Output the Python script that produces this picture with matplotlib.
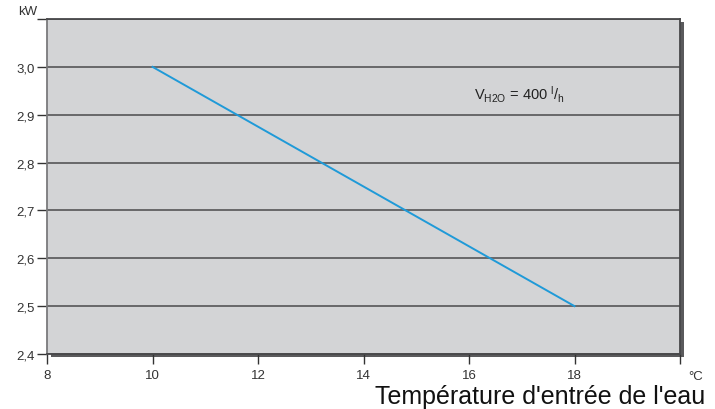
import matplotlib.pyplot as plt
from matplotlib.patches import Rectangle
import matplotlib.transforms as mtransforms

plt.rcParams['font.family'] = ['Liberation Sans', 'DejaVu Sans']
plt.rcParams['mathtext.fontset'] = 'custom'
plt.rcParams['mathtext.rm'] = 'Liberation Sans'
plt.rcParams['mathtext.it'] = 'Liberation Sans'

# data
temp = [10, 18]
power = [3.0, 2.5]
x_ticks = [8, 10, 12, 14, 16, 18, 20]
x_labels = ['8', '10', '12', '14', '16', '18', '']
y_ticks = [2.4, 2.5, 2.6, 2.7, 2.8, 2.9, 3.0, 3.1]
y_labels = ['2,4', '2,5', '2,6', '2,7', '2,8', '2,9', '3,0', '']

fig = plt.figure(figsize=(7.15, 4.10), dpi=100)
ax = fig.add_axes([47/715, 1 - 355/410, 633/715, 335/410])
ax.set_facecolor('#d3d4d6')

# drop shadow right/bottom
shift = mtransforms.ScaledTranslation(4/100, -3/100, fig.dpi_scale_trans)
shadow = Rectangle((0, 0), 1, 1, transform=ax.transAxes + shift,
                   facecolor='#5a5a5c', edgecolor='none', zorder=-1)
fig.patches.append(shadow)

ax.set_xlim(8, 20)
ax.set_ylim(2.4, 3.1)
ax.set_xticks(x_ticks)
ax.set_xticklabels(x_labels)
ax.set_yticks(y_ticks)
ax.set_yticklabels(y_labels)
ax.tick_params(axis='both', labelsize=9.5, colors='#333333', length=7, width=1)
ax.tick_params(axis='x', pad=4)
ax.tick_params(axis='y', pad=2)

ax.grid(axis='y', color='#4a4a4c', linewidth=1.1)
ax.set_axisbelow(True)
for s in ['top', 'right', 'bottom']:
    ax.spines[s].set_color('#48484a')
    ax.spines[s].set_linewidth(1.3)
ax.spines['left'].set_color('#7a7a7c')
ax.spines['left'].set_linewidth(1.3)

ax.plot(temp, power, color='#1f9ad8', linewidth=1.4)

ax.text(16.1, 2.944, r'V$_{\mathrm{H2O}}$ = 400 $^{\mathrm{l}}/_{\mathrm{h}}$',
        fontsize=10.5, color='#222222', va='center')

fig.text(18/715, 1 - 12/410, 'kW', fontsize=9.5, color='#333333', va='center')
fig.text(688/715, 1 - 377/410, '°C', fontsize=9.5, color='#333333', va='center')
fig.text(705/715, 1 - 397/410, "Température d'entrée de l'eau", fontsize=18,
         color='#111111', ha='right', va='center')

fig.savefig('out.png', dpi=100)
